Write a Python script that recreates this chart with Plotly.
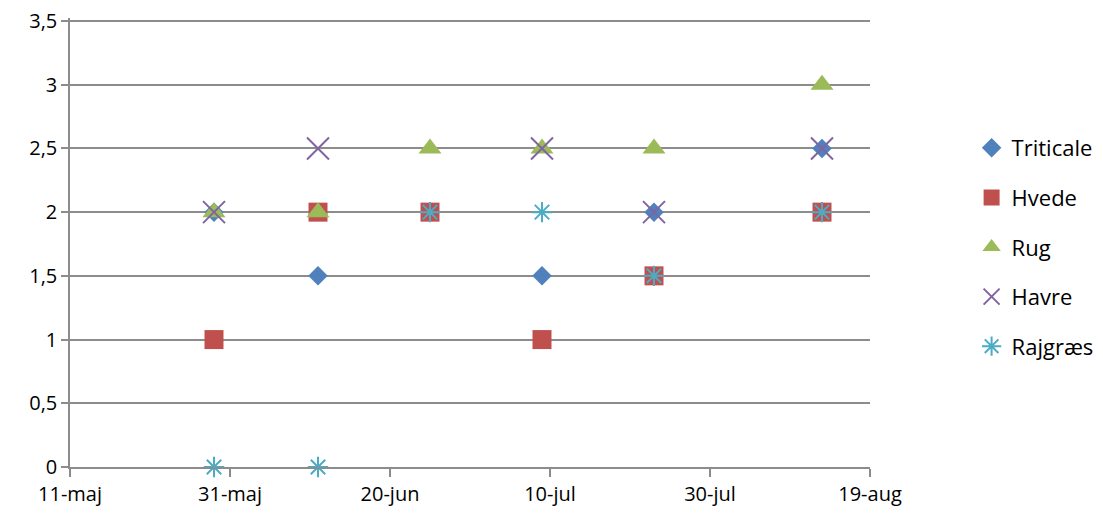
import plotly.graph_objects as go

dates = ["2013-05-29", "2013-06-11", "2013-06-25", "2013-07-09", "2013-07-23", "2013-08-13"]
triticale = [2, 1.5, 2, 1.5, 2, 2.5]
hvede = [1, 2, 2, 1, 1.5, 2]
rug = [2, 2, 2.5, 2.5, 2.5, 3]
havre = [2, 2.5, None, 2.5, 2, 2.5]
rajgraes = [0, 0, 2, 2, 1.5, 2]

tick_dates = ["2013-05-11", "2013-05-31", "2013-06-20", "2013-07-10", "2013-07-30", "2013-08-19"]
tick_labels = ["11-maj", "31-maj", "20-jun", "10-jul", "30-jul", "19-aug"]
y_ticks = [0, 0.5, 1, 1.5, 2, 2.5, 3, 3.5]
y_labels = ["0", "0,5", "1", "1,5", "2", "2,5", "3", "3,5"]

series = [
    ("Triticale", triticale, dict(symbol="diamond", color="#4F81BD", size=15)),
    ("Hvede", hvede, dict(symbol="square", color="#C0504D", size=19)),
    ("Rug", rug, dict(symbol="triangle-up", color="#9BBB59", size=20)),
    ("Havre", havre, dict(symbol="x-thin-open", size=22, color="#8064A2",
                          line=dict(color="#8064A2", width=2))),
    ("Rajgræs", rajgraes, dict(symbol="asterisk-open", size=17, color="#4BACC6",
                              line=dict(color="#4BACC6", width=2))),
]

fig = go.Figure()
for name, vals, marker in series:
    fig.add_trace(go.Scatter(x=dates, y=vals, mode="markers", name=name,
                             marker=marker, legendgroup=name, cliponaxis=False))

grid = "#8C8C8C"
fig.update_layout(
    width=1103, height=517,
    margin=dict(l=70, r=233, t=18, b=50, autoexpand=False),
    plot_bgcolor="white", paper_bgcolor="white",
    font=dict(family="Open Sans, Lato, sans-serif", size=20, color="black"),
    showlegend=True,
    legend=dict(x=1.127, xanchor="left", y=0.49, yanchor="middle",
                traceorder="grouped", tracegroupgap=18, font=dict(size=22),
                itemsizing="trace"),
    xaxis=dict(type="date", range=["2013-05-11", "2013-08-19"],
               tickvals=tick_dates, ticktext=tick_labels,
               showgrid=False, showline=True, linecolor=grid, linewidth=1.5,
               ticks="outside", ticklen=8, tickcolor=grid, tickwidth=1.5,
               zeroline=False, automargin=False),
    yaxis=dict(range=[0, 3.5235], tickvals=y_ticks, ticktext=y_labels,
               showgrid=True, gridcolor=grid, gridwidth=1.5,
               showline=True, linecolor=grid, linewidth=1.5,
               ticks="outside", ticklen=7, tickcolor=grid, tickwidth=1.5,
               zeroline=False, automargin=False),
)
fig.write_html("out.html", config={"displayModeBar": False},
               post_script="document.body.style.margin='0';document.body.style.overflow='hidden';")
